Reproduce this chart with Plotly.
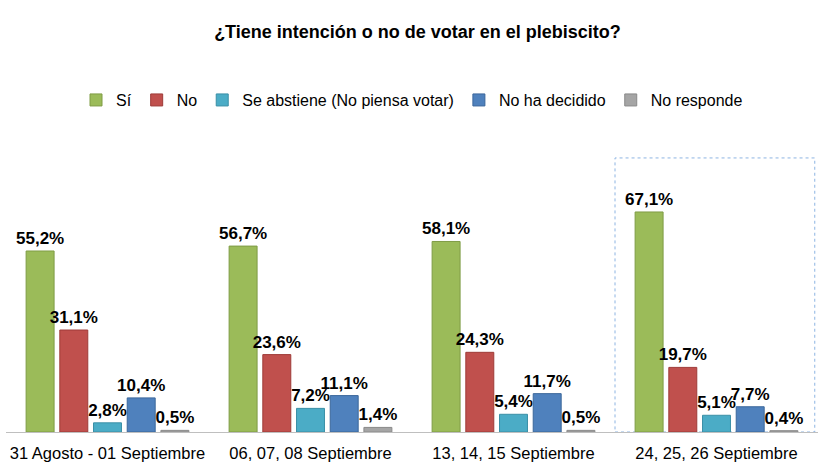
import plotly.graph_objects as go

categories = ["31 Agosto - 01 Septiembre", "06, 07, 08 Septiembre",
              "13, 14, 15 Septiembre", "24, 25, 26 Septiembre"]
series_names = ["Sí", "No", "Se abstiene (No piensa votar)", "No ha decidido", "No responde"]
si = [55.2, 56.7, 58.1, 67.1]
no = [31.1, 23.6, 24.3, 19.7]
abstiene = [2.8, 7.2, 5.4, 5.1]
no_decidido = [10.4, 11.1, 11.7, 7.7]
no_responde = [0.5, 1.4, 0.5, 0.4]
colors = ["#9BBB59", "#C0504D", "#4BACC6", "#4F81BD", "#A5A5A5"]
outlines = ["#7F9C45", "#9E3B38", "#3A8FA6", "#3B679B", "#8A8A8A"]

fig = go.Figure()
for name, vals, c, oc in zip(series_names, [si, no, abstiene, no_decidido, no_responde], colors, outlines):
    fig.add_trace(go.Bar(
        name=name, x=categories, y=vals,
        marker=dict(color=c, line=dict(color=oc, width=1)),
        text=[f"{v:.1f}%".replace(".", ",") for v in vals],
        textposition="outside", constraintext="none", cliponaxis=False,
        textfont=dict(family="Liberation Sans, Arial", size=17, color="black", weight="bold"),
    ))

fig.add_shape(type="rect", xref="paper", yref="paper", x0=0.75, x1=0.996, y0=0.0, y1=1.046,
              line=dict(color="#8DB4E2", width=1, dash="dot"), fillcolor="rgba(0,0,0,0)", layer="below")

fig.update_layout(
    width=835, height=470,
    margin=dict(l=6, r=17, t=170, b=38),
    paper_bgcolor="white", plot_bgcolor="white",
    barmode="group", bargap=0.17, bargroupgap=0.17,
    font=dict(family="Liberation Sans, Arial", color="black"),
    title=dict(text="<b>¿Tiene intención o no de votar en el plebiscito?</b>",
               x=0.5, xanchor="center", y=1 - 32 / 470, yanchor="middle",
               font=dict(size=18, color="black")),
    legend=dict(orientation="h", x=0.5, xanchor="center", y=1.267, yanchor="middle",
                font=dict(size=16, color="black"), traceorder="normal",
                itemwidth=30, tracegroupgap=0),
    xaxis=dict(showline=True, linecolor="#BFBFBF", linewidth=1, showgrid=False,
               ticks="outside", ticklen=6, tickcolor="rgba(0,0,0,0)",
               tickfont=dict(size=16.5, color="black")),
    yaxis=dict(range=[0, 79.9], visible=False, showgrid=False),
)

fig.write_html("out.html")
